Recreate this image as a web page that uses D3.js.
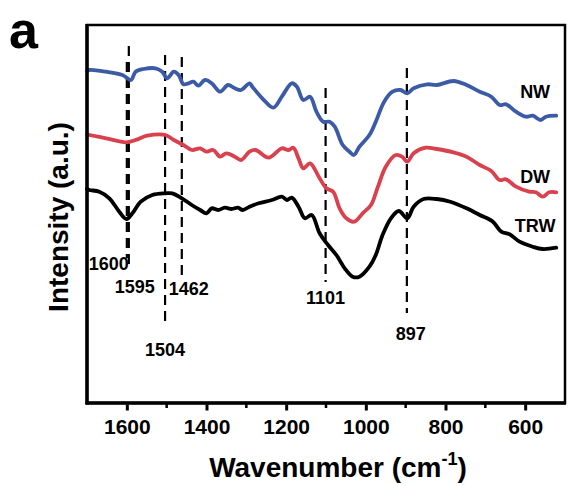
<!DOCTYPE html>
<html>
<head>
<meta charset="utf-8">
<script src="https://cdn.jsdelivr.net/npm/d3@7"></script>
<style>
    body { margin: 0; background: #fff; }
    svg text { font-family: "Liberation Sans", Arial, sans-serif; font-weight: bold; fill: #000; }
</style>
</head>
<body>
<svg id="chart" width="568" height="486"></svg>
<script>
// FTIR spectra, [wavenumber (cm-1), intensity (a.u.)]
const nwData = [
    [1700, 332], [1694, 333], [1652, 331.3], [1611, 328], [1590, 323], [1578, 331.3],
    [1558, 334], [1528, 334.7], [1511, 331.3], [1499, 324.7], [1482, 331.3], [1470, 328],
    [1458, 318.7], [1445, 319.7], [1433, 321.3], [1420, 317.3], [1404, 323], [1387, 319.7],
    [1366, 311.3], [1346, 318], [1329, 314.7], [1313, 313], [1292, 319.7], [1285, 316.3],
    [1260, 304.7], [1232, 295.3], [1211, 306.3], [1186, 319.7], [1173, 316.3], [1157, 303],
    [1140, 306.3], [1124, 291.3], [1107, 281.3], [1091, 281.3], [1078, 276.3], [1058, 258],
    [1041, 251.3], [1030, 248], [1016, 256.3], [991, 268], [975, 281.3], [954, 301.3],
    [933, 311.3], [913, 313], [896, 309.7], [880, 314.7], [846, 318.7], [822, 318],
    [780, 322], [747, 318], [714, 311.3], [685, 306.3], [664, 298], [648, 298.7],
    [623, 291.3], [598, 286.3], [581, 287.3], [561, 283], [548, 286.3], [522, 287.3]
];

const dwData = [
    [1700, 268.5], [1694, 268], [1652, 264.7], [1602, 260.7], [1578, 263], [1549, 267.3],
    [1503, 268], [1482, 263], [1458, 258], [1437, 253], [1416, 254.7], [1400, 251.3],
    [1383, 253], [1366, 246.3], [1350, 249.7], [1329, 246.3], [1313, 243], [1292, 251.3],
    [1277, 253], [1244, 245.3], [1211, 254.7], [1194, 253], [1182, 255.3], [1169, 244.7],
    [1157, 234.7], [1140, 239.7], [1116, 224.7], [1099, 214.7], [1082, 211.3], [1066, 194.7],
    [1049, 184.7], [1029, 181.3], [1008, 189.7], [987, 198], [971, 214.7], [950, 236.3],
    [925, 248], [909, 246.3], [896, 241.3], [880, 249.7], [850, 255.3], [822, 254],
    [780, 250.7], [747, 246.3], [714, 238], [685, 232], [664, 223], [648, 223.7],
    [623, 216.3], [590, 211.3], [573, 210.7], [556, 206.3], [540, 210.7], [522, 210.7]
];

const trwData = [
    [1700, 214], [1694, 213], [1669, 211.3], [1644, 204.7], [1619, 191.3], [1601, 184],
    [1586, 189.7], [1565, 201.3], [1536, 208], [1503, 209.7], [1486, 209.7], [1462, 204.7],
    [1437, 198], [1416, 193], [1400, 189.7], [1387, 194.7], [1371, 193], [1354, 195.3],
    [1337, 194], [1321, 195.3], [1309, 193], [1292, 196.3], [1269, 199.7], [1236, 203],
    [1211, 206.3], [1198, 203], [1186, 205.3], [1169, 196.3], [1153, 184.7], [1136, 188],
    [1116, 169.7], [1095, 158], [1074, 148], [1053, 134.7], [1033, 126.3], [1016, 126.3],
    [991, 136.3], [975, 148], [958, 168], [937, 184.7], [917, 192], [896, 184.7],
    [880, 196.3], [855, 204], [822, 204], [788, 201.3], [747, 194.7], [714, 188],
    [681, 181.3], [660, 171.3], [639, 168.7], [614, 161.3], [581, 156.3], [556, 154],
    [522, 155.3]
];

const seriesNames  = ["NW", "DW", "TRW"];
const peakNumbers  = [1600, 1595, 1504, 1462, 1101, 897];
const xTickValues  = [1600, 1400, 1200, 1000, 800, 600];
const xMinorValues = [1500, 1300, 1100, 900, 700];

// Layout
const width  = 568;
const height = 486;
const margin = {top: 25, right: 2, bottom: 83, left: 87};

const seriesColors = {NW: "#3b5ba6", DW: "#d8414d", TRW: "#000000"};
const seriesLabelY = {NW: 305, DW: 220, TRW: 171};

// dashed marker spans (a.u.) and label offsets (px)
const peakLayout = {
    1600: {top: 341, bottom: 145, anchor: "end",    dx: 2, dy: 12},
    1595: {top: 357, bottom: 137, anchor: "middle", dx: 6, dy: 27},
    1504: {top: 348, bottom: 79,  anchor: "middle", dx: 0, dy: 32},
    1462: {top: 346, bottom: 128, anchor: "middle", dx: 7, dy: 20},
    1101: {top: 315, bottom: 121, anchor: "middle", dx: 0, dy: 22},
    897:  {top: 335, bottom: 90,  anchor: "middle", dx: 4, dy: 27}
};

const svg = d3.select("#chart");

const x = d3.scaleLinear()
    .domain([1700, 500])
    .range([margin.left, width - margin.right - 1]);

const y = d3.scaleLinear()
    .domain([0, 378])
    .range([height - margin.bottom, margin.top]);

const plotLeft   = x.range()[0];
const plotRight  = x.range()[1];
const plotTop    = y.range()[1];
const plotBottom = y.range()[0];

// Peak markers
let markers = svg.append("g").attr("class", "markers");

peakNumbers.forEach(p => {
    let l = peakLayout[p];
    markers.append("line")
        .attr("x1", x(p)).attr("x2", x(p))
        .attr("y1", y(l.top)).attr("y2", y(l.bottom))
        .attr("stroke", "#000")
        .attr("stroke-width", 2.2)
        .attr("stroke-dasharray", "10,6");

    markers.append("text")
        .attr("x", x(p) + l.dx)
        .attr("y", y(l.bottom) + l.dy)
        .attr("text-anchor", l.anchor)
        .style("font-size", "18px")
        .text(p);
});

// Spectra
const line = d3.line()
    .x(d => x(d[0]))
    .y(d => y(d[1]))
    .curve(d3.curveCatmullRom.alpha(0.5));

[nwData, dwData, trwData].forEach((data, i) => {
    svg.append("path")
        .datum(data)
        .attr("fill", "none")
        .attr("stroke", seriesColors[seriesNames[i]])
        .attr("stroke-width", 3.8)
        .attr("stroke-linejoin", "round")
        .attr("stroke-linecap", "round")
        .attr("d", line);
});

seriesNames.forEach(name => {
    svg.append("text")
        .attr("x", x(575))
        .attr("y", y(seriesLabelY[name]))
        .attr("text-anchor", "middle")
        .style("font-size", "18px")
        .text(name);
});

// Frame
svg.append("rect")
    .attr("x", plotLeft)
    .attr("y", plotTop)
    .attr("width", plotRight - plotLeft)
    .attr("height", plotBottom - plotTop)
    .attr("fill", "none")
    .attr("stroke", "#000")
    .attr("stroke-width", 2.5);

svg.append("line")
    .attr("x1", plotLeft).attr("x2", plotLeft)
    .attr("y1", plotTop - 1).attr("y2", plotBottom + 1.5)
    .attr("stroke", "#000").attr("stroke-width", 3.5);

svg.append("line")
    .attr("x1", plotLeft - 1.5).attr("x2", plotRight + 1)
    .attr("y1", plotBottom).attr("y2", plotBottom)
    .attr("stroke", "#000").attr("stroke-width", 3.5);

// X axis
let xAxis = svg.append("g")
    .attr("transform", `translate(0,${plotBottom + 1.5})`)
    .call(d3.axisBottom(x)
        .tickValues(xTickValues)
        .tickFormat(d3.format("d"))
        .tickSize(6)
        .tickSizeOuter(0)
        .tickPadding(9));

xAxis.select(".domain").remove();
xAxis.selectAll(".tick line").attr("stroke-width", 3);
xAxis.selectAll(".tick text")
    .style("font-size", "21px")
    .style("font-family", "'Liberation Sans', Arial, sans-serif")
    .style("font-weight", "bold")
    .attr("fill", "#000");

svg.append("g")
    .selectAll("line")
    .data(xMinorValues)
    .join("line")
    .attr("x1", d => x(d)).attr("x2", d => x(d))
    .attr("y1", plotBottom).attr("y2", plotBottom + 5)
    .attr("stroke", "#000")
    .attr("stroke-width", 2.5);

// Axis titles
let xTitle = svg.append("text")
    .attr("x", 338)
    .attr("y", 477)
    .attr("text-anchor", "middle")
    .style("font-size", "28px");
xTitle.append("tspan").text("Wavenumber (cm");
xTitle.append("tspan").attr("dy", -12).style("font-size", "18px").text("-1");
xTitle.append("tspan").attr("dy", 12).text(")");

svg.append("text")
    .attr("transform", `translate(68,${(plotTop + plotBottom) / 2 + 3}) rotate(-90)`)
    .attr("text-anchor", "middle")
    .style("font-size", "28px")
    .text("Intensity (a.u.)");

// Panel letter
svg.append("text")
    .attr("x", 9)
    .attr("y", 48)
    .style("font-size", "52px")
    .text("a");
</script>
</body>
</html>
